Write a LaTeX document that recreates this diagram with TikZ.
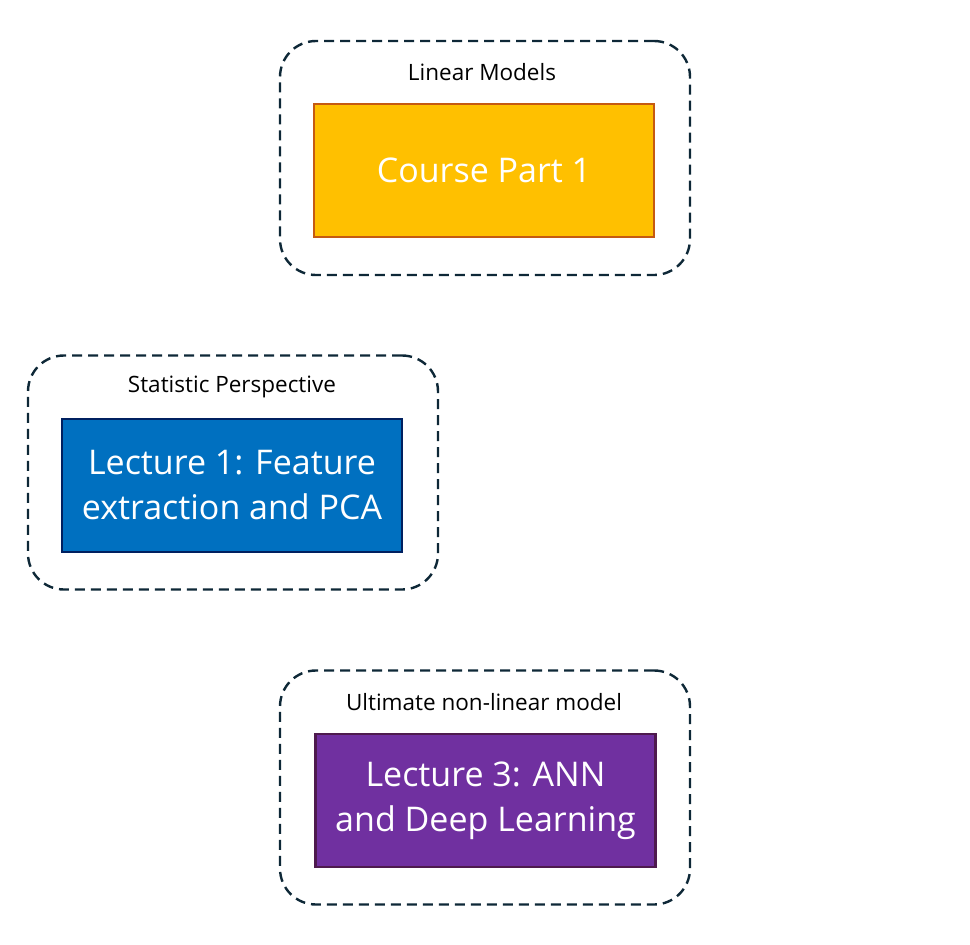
\documentclass[tikz,border=0pt]{standalone}
\usepackage{fontspec}
\setmainfont{Open Sans}
\definecolor{dashc}{HTML}{0E2837}
\definecolor{gold}{HTML}{FFC000}
\definecolor{goldb}{HTML}{C55A11}
\definecolor{blu}{HTML}{0070C0}
\definecolor{blub}{HTML}{002060}
\definecolor{purp}{HTML}{7030A0}
\definecolor{purpb}{HTML}{4E1A4E}
\tikzset{
  group/.style={draw=dashc, line width=2.4pt, dash pattern=on 10pt off 6pt, rounded corners=36pt, minimum width=410pt, minimum height=234pt, inner sep=0pt},
  card/.style={line width=2.2pt, minimum width=340pt, minimum height=133pt, inner sep=0pt, text=white, align=center, font=\fontsize{34}{45}\selectfont},
  grouplabel/.style={font=\fontsize{22.5}{26}\selectfont, text=black, inner sep=0pt}
}
\begin{document}
\begin{tikzpicture}[x=1pt,y=-1pt]
\useasboundingbox (0,0) rectangle (970,945);
% group 1
\node[group] (g1) at (485,158) {};
\node[grouplabel] (l1) at (482,72) {Linear Models};
\node[card, fill=gold, draw=goldb] (c1) at (484,170.5) {Course Part 1};
% group 2
\node[group] (g2) at (233,472.5) {};
\node[grouplabel] (l2) at (232,387) {Statistic Perspective};
\node[card, fill=blu, draw=blub] (c2) at (232,485.5) {Lecture 1: Feature\\extraction and PCA};
% group 3
\node[group] (g3) at (485,787.5) {};
\node[grouplabel] (l3) at (484,702) {Ultimate non-linear model};
\node[card, fill=purp, draw=purpb] (c3) at (485.5,800.5) {Lecture 3: ANN\\and Deep Learning};
\end{tikzpicture}
\end{document}
